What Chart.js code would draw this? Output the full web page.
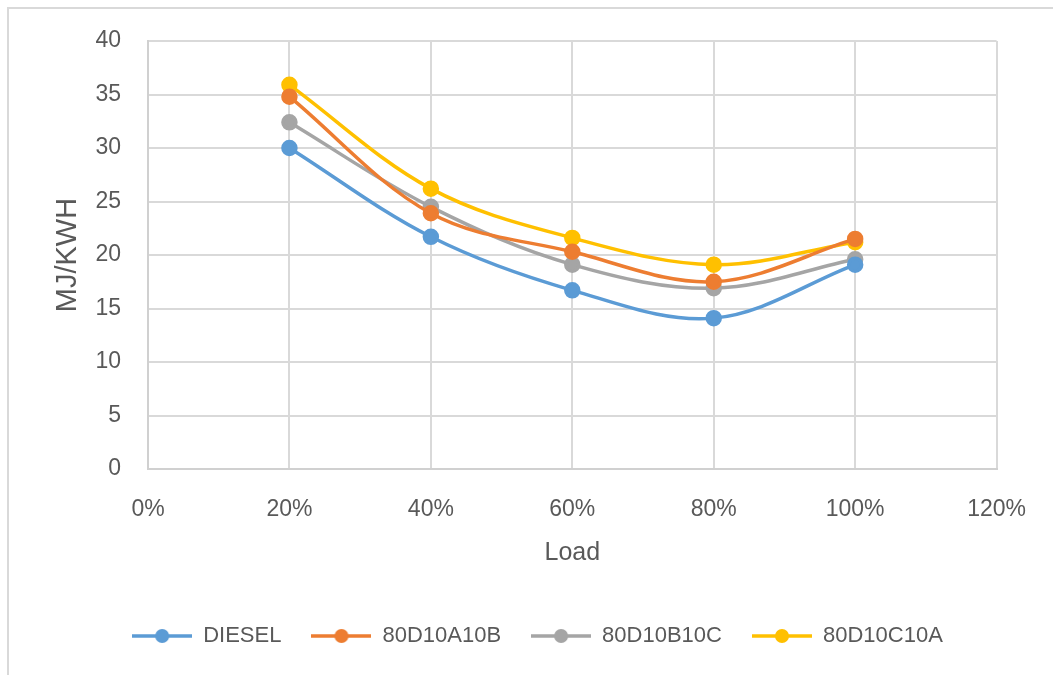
<!DOCTYPE html>
<html>
<head>
<meta charset="utf-8">
<script src="https://cdn.jsdelivr.net/npm/chart.js@4/dist/chart.umd.min.js"></script>
<style>
  html, body { margin: 0; padding: 0; background: #ffffff; }
  #wrap { position: absolute; left: 0; top: 0; width: 1053px; height: 675px; }
</style>
</head>
<body>
<div id="wrap"><canvas id="chart" width="1053" height="675"></canvas></div>
<script>
// Engine load (%) and energy consumption (MJ/kWh) for each fuel
const loads = [20, 40, 60, 80, 100];
const diesel = [30.0, 21.7, 16.7, 14.1, 19.1];
const blend80D10A10B = [34.8, 23.9, 20.3, 17.5, 21.5];
const blend80D10B10C = [32.4, 24.5, 19.1, 16.9, 19.6];
const blend80D10C10A = [35.9, 26.2, 21.6, 19.1, 21.2];

const seriesNames = ['DIESEL', '80D10A10B', '80D10B10C', '80D10C10A'];
const seriesValues = [diesel, blend80D10A10B, blend80D10B10C, blend80D10C10A];
const seriesColors = ['#5B9BD5', '#ED7D31', '#A5A5A5', '#FFC000'];

const xTicks = [0, 20, 40, 60, 80, 100, 120];
const yTicks = [0, 5, 10, 15, 20, 25, 30, 35, 40];

const FONT = "'Liberation Sans', Arial, sans-serif";
const TEXT = '#595959';
const GRID = '#d9d9d9';

// Legend marker: short line with a dot in the middle
function legendMarker(color) {
  const c = document.createElement('canvas');
  c.width = 60; c.height = 16;
  const g = c.getContext('2d');
  g.strokeStyle = color;
  g.lineWidth = 3.5;
  g.beginPath(); g.moveTo(0, 8); g.lineTo(60, 8); g.stroke();
  g.fillStyle = color;
  g.beginPath(); g.arc(30, 8, 7, 0, Math.PI * 2); g.fill();
  return c;
}

const datasets = seriesNames.map((name, i) => ({
  label: name,
  data: loads.map((x, j) => ({ x: x, y: seriesValues[i][j] })),
  borderColor: seriesColors[i],
  backgroundColor: seriesColors[i],
  pointBackgroundColor: seriesColors[i],
  pointBorderColor: seriesColors[i],
  borderWidth: 3.5,
  pointRadius: 6.5,
  pointHoverRadius: 6.5,
  tension: 0.35,
  fill: false,
  legendMarker: legendMarker(seriesColors[i])
}));

// Thin frame along the top and left edges, plus legend placement
const framePlugin = {
  id: 'frame',
  afterLayout(chart) {
    const lg = chart.legend;
    if (lg) { lg.left += 31; lg.right += 31; }
  },
  beforeDraw(chart) {
    const ctx = chart.ctx;
    ctx.save();
    ctx.strokeStyle = '#d9d9d9';
    ctx.lineWidth = 2;
    ctx.beginPath();
    ctx.moveTo(8, 675); ctx.lineTo(8, 8); ctx.lineTo(1053, 8);
    ctx.stroke();
    ctx.restore();
  }
};

new Chart(document.getElementById('chart'), {
  type: 'line',
  data: { datasets: datasets },
  plugins: [framePlugin],
  options: {
    responsive: false,
    animation: false,
    devicePixelRatio: 1,
    layout: { padding: { left: 10, right: 50, top: 41, bottom: 18 } },
    plugins: {
      tooltip: { enabled: false },
      legend: {
        position: 'bottom',
        labels: {
          usePointStyle: true,
          pointStyleWidth: 60,
          boxHeight: 16,
          padding: 30,
          color: TEXT,
          font: { family: FONT, size: 22 },
          generateLabels(chart) {
            return chart.data.datasets.map((ds, i) => ({
              text: ds.label,
              pointStyle: ds.legendMarker,
              fillStyle: ds.borderColor,
              strokeStyle: ds.borderColor,
              lineWidth: 0,
              fontColor: TEXT,
              hidden: false,
              datasetIndex: i
            }));
          }
        }
      }
    },
    scales: {
      x: {
        type: 'linear',
        min: 0,
        max: 120,
        afterBuildTicks(scale) { scale.ticks = xTicks.map(v => ({ value: v })); },
        afterFit(scale) { scale.height = 126; },
        grid: { color: GRID, lineWidth: 2, drawTicks: false },
        border: { color: '#d0d0d0', width: 2 },
        ticks: {
          padding: 27,
          color: TEXT,
          font: { family: FONT, size: 23 },
          callback: v => v + '%'
        },
        title: {
          display: true,
          text: 'Load',
          color: TEXT,
          font: { family: FONT, size: 25 },
          padding: { top: 0, bottom: 27 }
        }
      },
      y: {
        type: 'linear',
        min: 0,
        max: 40,
        afterBuildTicks(scale) { scale.ticks = yTicks.map(v => ({ value: v })); },
        afterFit(scale) { scale.width = 138; },
        grid: { color: GRID, lineWidth: 2, drawTicks: false },
        border: { color: '#d0d0d0', width: 2 },
        ticks: {
          padding: 27,
          color: TEXT,
          font: { family: FONT, size: 23 }
        },
        title: {
          display: true,
          text: 'MJ/KWH',
          color: TEXT,
          font: { family: FONT, size: 29 },
          padding: { top: 41, bottom: 0 }
        }
      }
    }
  }
});
</script>
</body>
</html>
